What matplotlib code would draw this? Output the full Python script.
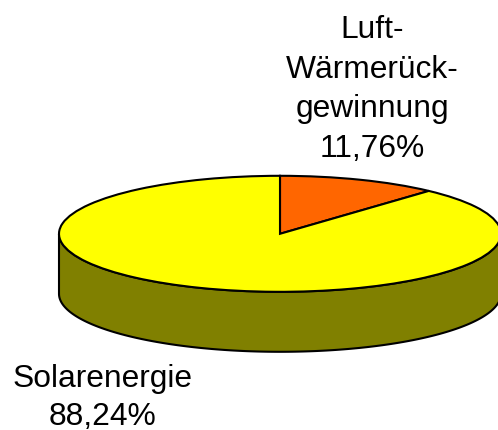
import numpy as np
import matplotlib
matplotlib.use("Agg")
import matplotlib.pyplot as plt

labels = ["Luft-\nWärmerück-\ngewinnung\n11,76%", "Solarenergie\n88,24%"]
values = [11.76, 88.24]
top_colors = ["#FF6600", "#FFFF00"]
side_color = "#808000"

W, H = 498, 431
CX, CY, RX, RY, DEPTH = 280.0, 234.8, 221.0, 58.0, 60.0

fig = plt.figure(figsize=(W / 100, H / 100), dpi=100)
ax = fig.add_axes([0, 0, 1, 1])
ax.pie(values, colors=top_colors, startangle=90, counterclock=False, radius=1,
       wedgeprops=dict(edgecolor="black", linewidth=1.5, zorder=3))
ax.set_aspect("auto")
ax.set_xlim((0 - CX) / RX, (W - CX) / RX)
ax.set_ylim((CY - H) / RY, CY / RY)
ax.axis("off")

t = np.linspace(np.pi, 2 * np.pi, 200)
d = DEPTH / RY
xs = np.concatenate([np.cos(t), np.cos(t[::-1])])
ys = np.concatenate([np.sin(t), np.sin(t[::-1]) - d])
ax.fill(xs, ys, facecolor=side_color, edgecolor="black", linewidth=1.5, zorder=2)


def px(x, y):
    return (x - CX) / RX, (CY - y) / RY


font = dict(family="Liberation Sans", fontsize=22.9, color="black", ha="center",
            va="baseline", zorder=5)
ax.text(*px(372, 157), labels[0], linespacing=1.42, **font)
ax.text(*px(102.5, 425), labels[1], linespacing=1.33, **font)

fig.savefig("out.png", dpi=100)
